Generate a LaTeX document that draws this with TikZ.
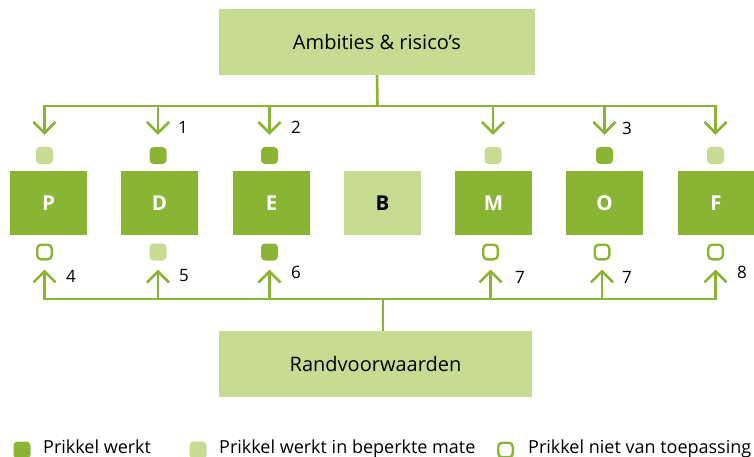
\documentclass[tikz,border=0pt]{standalone}
\usepackage{fontspec}
\setmainfont{Open Sans}
\usetikzlibrary{arrows.meta}
\definecolor{dk}{RGB}{138,181,52}
\definecolor{lt}{RGB}{200,219,146}
\begin{document}
\begin{tikzpicture}[x=1pt,y=-1pt,
  wire/.style={draw=dk, line width=2.6pt},
  bus/.style={wire, line cap=rect},
  arr/.style={wire, -{Straight Barb[length=11pt,width=22pt]}},
  bigbox/.style={fill=lt, minimum width=316pt, minimum height=66pt, inner sep=0pt,
    font=\fontsize{20}{24}\selectfont},
  letterbox/.style={fill=dk, minimum width=77pt, minimum height=64pt, inner sep=0pt,
    text=white, font=\fontsize{20.5}{24}\selectfont\bfseries},
  lightbox/.style={letterbox, fill=lt, text=black},
  sq/.style={minimum size=17pt, inner sep=0pt, rounded corners=4pt},
  sqd/.style={sq, fill=dk},
  sql/.style={sq, fill=lt},
  sqo/.style={sq, minimum size=14.6pt, draw=dk, line width=2.4pt, fill=white},
  num/.style={inner sep=0pt, font=\fontsize{17}{20}\selectfont},
  leg/.style={anchor=base west, inner sep=0pt, font=\fontsize{18}{22}\selectfont}
]
\useasboundingbox (0,0) rectangle (754,457);

% main boxes
\node[bigbox] (amb) at (377,42) {Ambities \& risico’s};
\node[bigbox, minimum width=313pt] (rand) at (375.5,364) {Randvoorwaarden};

% letter boxes
\node[letterbox] (P) at (48.5,203) {P};
\node[letterbox] (D) at (159.5,203) {D};
\node[letterbox] (E) at (271.5,203) {E};
\node[lightbox]  (B) at (382.5,203) {B};
\node[letterbox] (M) at (493.5,203) {M};
\node[letterbox] (O) at (604.5,203) {O};
\node[letterbox, minimum width=76pt] (F) at (716,203) {F};

% status markers above the boxes
\node[sql] (uP) at (44.5,155.5) {};
\node[sqd] (uD) at (158,155.5) {};
\node[sqd] (uE) at (269.5,155.5) {};
\node[sql] (uM) at (493,155.5) {};
\node[sqd] (uO) at (604.5,155.5) {};
\node[sql] (uF) at (715.5,155.5) {};

% status markers below the boxes
\node[sqo] (lP) at (44.5,252) {};
\node[sql] (lD) at (158,252) {};
\node[sqd] (lE) at (269.5,252) {};
\node[sqo] (lM) at (490.5,252) {};
\node[sqo] (lO) at (602,252) {};
\node[sqo] (lF) at (715.5,252) {};

% upper distribution line
\coordinate (tJ) at (377.5,106);
\foreach \n in {P,D,E,M,O,F} \coordinate (t\n) at (u\n |- tJ);
\draw[wire] (amb.south) -- (tJ);
\draw[bus] (tP) -- (tF);
\foreach \n in {P,D,E,M,O,F} \draw[arr, shorten >=12pt] (t\n) -- (u\n.north);

% lower distribution line
\coordinate (bJ) at (383,299);
\foreach \n in {P,D,E,M,O,F} \coordinate (b\n) at (l\n |- bJ);
\draw[wire] (rand.north -| bJ) -- (bJ);
\draw[bus] (bP) -- (bF);
\foreach \n in {P,D,E,M,O,F} \draw[arr, shorten >=9pt] (b\n) -- (l\n.south);

% footnote numbers
\node[num] (n1) at (183,127) {1};
\node[num] (n2) at (296,127) {2};
\node[num] (n3) at (627,128) {3};
\node[num] (n4) at (71,276) {4};
\node[num] (n5) at (184,276) {5};
\node[num] (n6) at (296,272) {6};
\node[num] (n7a) at (520,277) {7};
\node[num] (n7b) at (627,277) {7};
\node[num] (n8) at (742,272) {8};

% legend
\node[sqd] (k1) at (22,450) {};
\node[leg] (t1) at (43,453) {Prikkel werkt};
\node[sql] (k2) at (198,450) {};
\node[leg] (t2) at (219,453) {Prikkel werkt in beperkte mate};
\node[sqo] (k3) at (505.5,450) {};
\node[leg] (t3) at (528,453) {Prikkel niet van toepassing};
\end{tikzpicture}
\end{document}
